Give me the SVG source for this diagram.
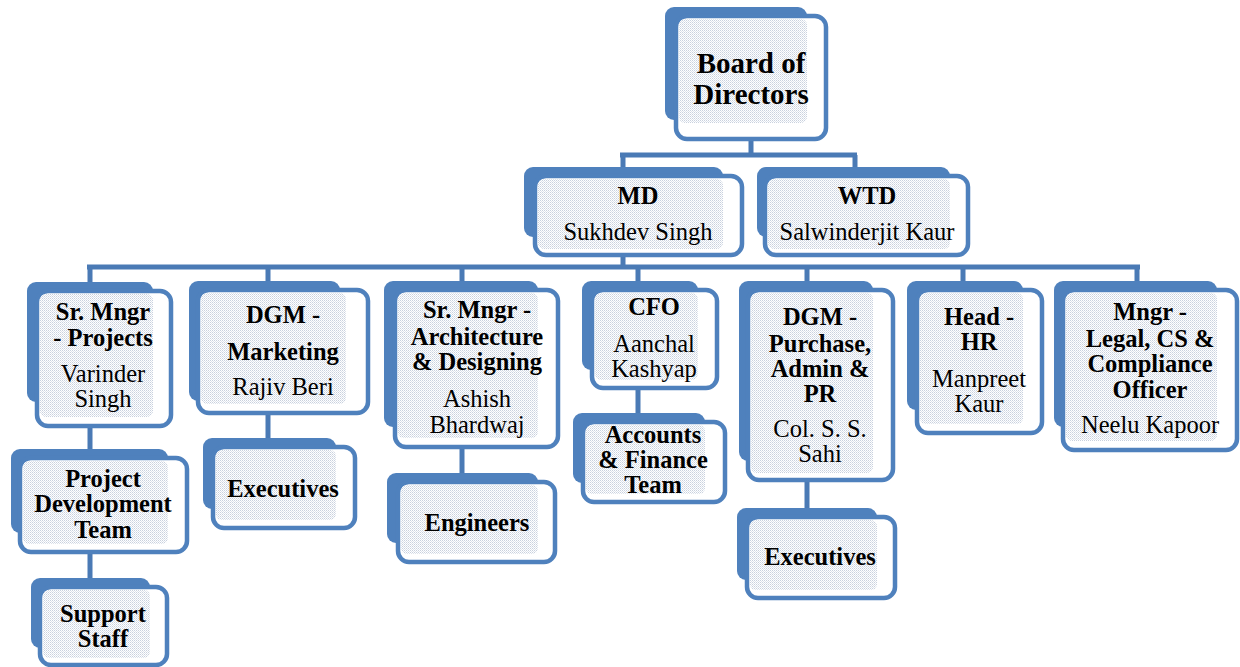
<svg xmlns="http://www.w3.org/2000/svg" width="1240" height="667" viewBox="0 0 1240 667">
<defs>
<pattern id="dots" width="2" height="2" patternUnits="userSpaceOnUse">
<rect width="2" height="2" fill="#ffffff"/>
<rect x="0" y="0" width="1" height="1" fill="#c9d1de"/>
<rect x="1" y="1" width="1" height="1" fill="#dde3ec"/>
</pattern>
<style>
.back{fill:#4f81bd}
.front{fill:#ffffff;stroke:#4f81bd;stroke-width:4.5}
.stip{fill:url(#dots)}
.conn{stroke:#4a7ab5;stroke-width:5;fill:none}
.t{font-family:"Liberation Serif","Times New Roman",serif;font-size:24.5px;text-anchor:middle;fill:#000}
.b{font-weight:bold}
.big{font-size:29px}
</style>
</defs>
<rect width="1240" height="667" fill="#ffffff"/>
<g id="connectors" class="conn">
<path d="M751,139 V155 M620,155 H857 M623,155 V168 M855,155 V168"/>
<path d="M623,255 V267 M87,267 H1140 M90,267 V283 M268,267 V283 M462,267 V283 M638,267 V283 M807,267 V283 M963,267 V283 M1137,267 V283"/>
<path d="M90,426 V450 M90,552 V579 M268,413 V439 M462,447 V474 M638,388 V414 M807,480 V509"/>
</g>
<g id="board">
<rect class="back" x="665" y="7" width="142" height="113" rx="9"/>
<rect class="front" x="676" y="16" width="150" height="123" rx="11"/>
<rect class="stip" x="679" y="19" width="128" height="104" rx="6"/>
<text class="t b big" x="751" y="73">Board of</text>
<text class="t b big" x="751" y="104">Directors</text>
</g>
<g id="md">
<rect class="back" x="524" y="167" width="199" height="70" rx="9"/>
<rect class="front" x="535" y="176" width="207" height="79" rx="11"/>
<rect class="stip" x="538" y="179" width="185" height="70" rx="6"/>
<text class="t b" x="638" y="204">MD</text>
<text class="t" x="638" y="240">Sukhdev Singh</text>
</g>
<g id="wtd">
<rect class="back" x="757" y="167" width="193" height="70" rx="9"/>
<rect class="front" x="765" y="176" width="203" height="79" rx="11"/>
<rect class="stip" x="768" y="179" width="182" height="70" rx="6"/>
<text class="t b" x="867" y="204">WTD</text>
<text class="t" x="867" y="240">Salwinderjit Kaur</text>
</g>
<g id="sr-mngr-projects">
<rect class="back" x="27" y="282" width="126" height="120" rx="9"/>
<rect class="front" x="37" y="291" width="134" height="135" rx="11"/>
<rect class="stip" x="40" y="294" width="113" height="123" rx="6"/>
<text class="t b" x="103" y="320">Sr. Mngr</text>
<text class="t b" x="103" y="346">- Projects</text>
<text class="t" x="103" y="382">Varinder</text>
<text class="t" x="103" y="407">Singh</text>
</g>
<g id="dgm-marketing">
<rect class="back" x="189" y="281" width="151" height="120" rx="9"/>
<rect class="front" x="198" y="290" width="170" height="123" rx="11"/>
<rect class="stip" x="201" y="293" width="145" height="111" rx="6"/>
<text class="t b" x="283" y="323">DGM -</text>
<text class="t b" x="283" y="360">Marketing</text>
<text class="t" x="283" y="395">Rajiv Beri</text>
</g>
<g id="sr-mngr-architecture">
<rect class="back" x="384" y="281" width="154" height="146" rx="9"/>
<rect class="front" x="395" y="290" width="163" height="157" rx="11"/>
<rect class="stip" x="398" y="293" width="140" height="145" rx="6"/>
<text class="t b" x="477" y="318">Sr. Mngr -</text>
<text class="t b" x="477" y="345">Architecture</text>
<text class="t b" x="477" y="370">&amp; Designing</text>
<text class="t" x="477" y="407">Ashish</text>
<text class="t" x="477" y="433">Bhardwaj</text>
</g>
<g id="cfo">
<rect class="back" x="582" y="281" width="116" height="89" rx="9"/>
<rect class="front" x="592" y="290" width="125" height="98" rx="11"/>
<rect class="stip" x="595" y="293" width="103" height="87" rx="6"/>
<text class="t b" x="654" y="315">CFO</text>
<text class="t" x="654" y="352">Aanchal</text>
<text class="t" x="654" y="377">Kashyap</text>
</g>
<g id="dgm-purchase">
<rect class="back" x="739" y="281" width="134" height="180" rx="9"/>
<rect class="front" x="748" y="290" width="145" height="190" rx="11"/>
<rect class="stip" x="751" y="293" width="122" height="180" rx="6"/>
<text class="t b" x="820" y="325">DGM -</text>
<text class="t b" x="820" y="352">Purchase,</text>
<text class="t b" x="820" y="377">Admin &amp;</text>
<text class="t b" x="820" y="402">PR</text>
<text class="t" x="820" y="437">Col. S. S.</text>
<text class="t" x="820" y="462">Sahi</text>
</g>
<g id="head-hr">
<rect class="back" x="907" y="281" width="116" height="129" rx="9"/>
<rect class="front" x="917" y="290" width="125" height="143" rx="11"/>
<rect class="stip" x="920" y="293" width="103" height="131" rx="6"/>
<text class="t b" x="979" y="325">Head -</text>
<text class="t b" x="979" y="350">HR</text>
<text class="t" x="979" y="387">Manpreet</text>
<text class="t" x="979" y="412">Kaur</text>
</g>
<g id="mngr-legal">
<rect class="back" x="1054" y="281" width="163" height="146" rx="9"/>
<rect class="front" x="1063" y="290" width="174" height="160" rx="11"/>
<rect class="stip" x="1066" y="293" width="151" height="148" rx="6"/>
<text class="t b" x="1150" y="320">Mngr -</text>
<text class="t b" x="1150" y="347">Legal, CS &amp;</text>
<text class="t b" x="1150" y="372">Compliance</text>
<text class="t b" x="1150" y="398">Officer</text>
<text class="t" x="1150" y="433">Neelu Kapoor</text>
</g>
<g id="project-development-team">
<rect class="back" x="11" y="449" width="157" height="84" rx="9"/>
<rect class="front" x="20" y="458" width="167" height="94" rx="11"/>
<rect class="stip" x="23" y="461" width="145" height="83" rx="6"/>
<text class="t b" x="103" y="487">Project</text>
<text class="t b" x="103" y="512">Development</text>
<text class="t b" x="103" y="538">Team</text>
</g>
<g id="support-staff">
<rect class="back" x="31" y="578" width="119" height="70" rx="9"/>
<rect class="front" x="40" y="587" width="127" height="78" rx="11"/>
<rect class="stip" x="43" y="590" width="107" height="68" rx="6"/>
<text class="t b" x="103" y="622">Support</text>
<text class="t b" x="103" y="647">Staff</text>
</g>
<g id="executives-marketing">
<rect class="back" x="203" y="438" width="133" height="71" rx="9"/>
<rect class="front" x="213" y="447" width="142" height="81" rx="11"/>
<rect class="stip" x="216" y="450" width="120" height="70" rx="6"/>
<text class="t b" x="283" y="497">Executives</text>
</g>
<g id="engineers">
<rect class="back" x="387" y="473" width="151" height="70" rx="9"/>
<rect class="front" x="398" y="482" width="157" height="80" rx="11"/>
<rect class="stip" x="401" y="485" width="137" height="69" rx="6"/>
<text class="t b" x="477" y="531">Engineers</text>
</g>
<g id="accounts-finance">
<rect class="back" x="573" y="413" width="132" height="70" rx="9"/>
<rect class="front" x="583" y="422" width="142" height="80" rx="11"/>
<rect class="stip" x="586" y="425" width="119" height="69" rx="6"/>
<text class="t b" x="653" y="443">Accounts</text>
<text class="t b" x="653" y="468">&amp; Finance</text>
<text class="t b" x="653" y="493">Team</text>
</g>
<g id="executives-purchase">
<rect class="back" x="737" y="508" width="140" height="72" rx="9"/>
<rect class="front" x="747" y="517" width="148" height="81" rx="11"/>
<rect class="stip" x="750" y="520" width="127" height="70" rx="6"/>
<text class="t b" x="820" y="565">Executives</text>
</g>
</svg>
